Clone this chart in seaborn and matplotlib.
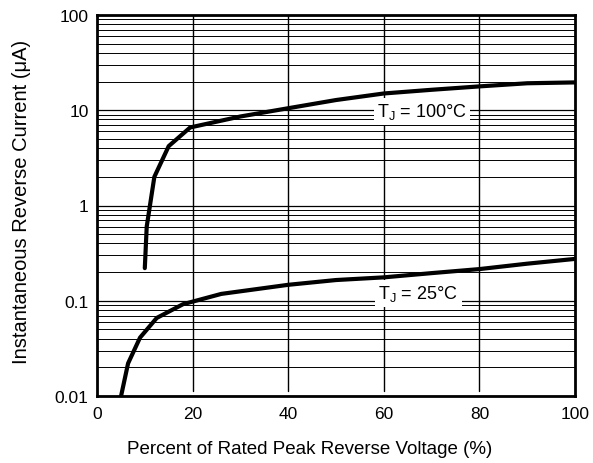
import matplotlib
matplotlib.use("Agg")
import matplotlib.pyplot as plt
import seaborn as sns
import numpy as np
import pandas as pd
from matplotlib.ticker import LogLocator, FixedLocator, FixedFormatter

# Data
x_100 = [10.0, 10.4, 12.0, 15.0, 19.5, 30, 40, 50, 60, 70, 80, 90, 100]
y_100 = [0.22, 0.6, 2.0, 4.2, 6.6, 8.6, 10.5, 12.8, 15.0, 16.4, 17.8, 19.2, 19.6]
x_25 = [5.0, 6.5, 9.0, 12.5, 18.0, 26, 40, 50, 60, 70, 80, 90, 100]
y_25 = [0.0098, 0.022, 0.041, 0.066, 0.092, 0.118, 0.147, 0.165, 0.176, 0.195, 0.215, 0.245, 0.275]
x_ticks = [0, 20, 40, 60, 80, 100]
y_ticks = [0.01, 0.1, 1, 10, 100]
y_tick_labels = ["0.01", "0.1", "1", "10", "100"]
label_100 = "T$_\\mathregular{J}$ = 100°C"
label_25 = "T$_\\mathregular{J}$ = 25°C"

sns.set_style("white")
plt.rcParams['font.family'] = ['Liberation Sans', 'DejaVu Sans']
plt.rcParams['text.color'] = 'black'
plt.rcParams['axes.labelcolor'] = 'black'
plt.rcParams['xtick.color'] = 'black'
plt.rcParams['ytick.color'] = 'black'

fig, ax = plt.subplots(figsize=(5.93, 4.64), dpi=100)
fig.subplots_adjust(left=97/593, right=575/593, top=1-16/464, bottom=1-397/464)

ax.set_yscale('log')
ax.set_xlim(0, 100)
ax.set_ylim(0.01, 100)

# grid
ax.yaxis.set_minor_locator(LogLocator(base=10, subs=np.arange(2, 10)))
ax.grid(True, which='major', axis='y', color='black', linewidth=0.9)
ax.grid(True, which='minor', axis='y', color='black', linewidth=0.7)
for xv in x_ticks[1:-1]:
    ax.axvline(xv, ymin=0.012, ymax=1, color='black', linewidth=1.0, zorder=1)

df100 = pd.DataFrame({'x': x_100, 'y': y_100})
df25 = pd.DataFrame({'x': x_25, 'y': y_25})
sns.lineplot(data=df100, x='x', y='y', ax=ax, color='black', linewidth=3.0, zorder=3)
sns.lineplot(data=df25, x='x', y='y', ax=ax, color='black', linewidth=3.0, zorder=3)

ax.set_xticks(x_ticks)
ax.set_xticklabels([str(v) for v in x_ticks])
ax.yaxis.set_major_locator(FixedLocator(y_ticks))
ax.yaxis.set_major_formatter(FixedFormatter(y_tick_labels))
ax.yaxis.set_minor_formatter(FixedFormatter([]))
ax.tick_params(axis='both', which='both', length=0, labelsize=12.5, labelcolor='black')
ax.tick_params(axis='x', pad=7)
ax.tick_params(axis='y', pad=6)

for s in ax.spines.values():
    s.set_linewidth(2.0)
    s.set_color('black')
    s.set_zorder(5)

ax.set_xlabel("Percent of Rated Peak Reverse Voltage (%)", fontsize=13.5, va='center', color='black')
ax.xaxis.set_label_coords(0.4456, -0.139)
ax.set_ylabel("Instantaneous Reverse Current (μA)", fontsize=14.5, va='center', color='black')
ax.yaxis.set_label_coords(-0.157, 0.512)

bbox = dict(facecolor='white', edgecolor='none', pad=2.5)
ax.text(68.0, 9.8, label_100, fontsize=13, ha='center', va='center', bbox=bbox, zorder=4, color='black')
ax.text(67.2, 0.12, label_25, fontsize=13, ha='center', va='center', bbox=bbox, zorder=4, color='black')

fig.savefig("out.png", dpi=100)
